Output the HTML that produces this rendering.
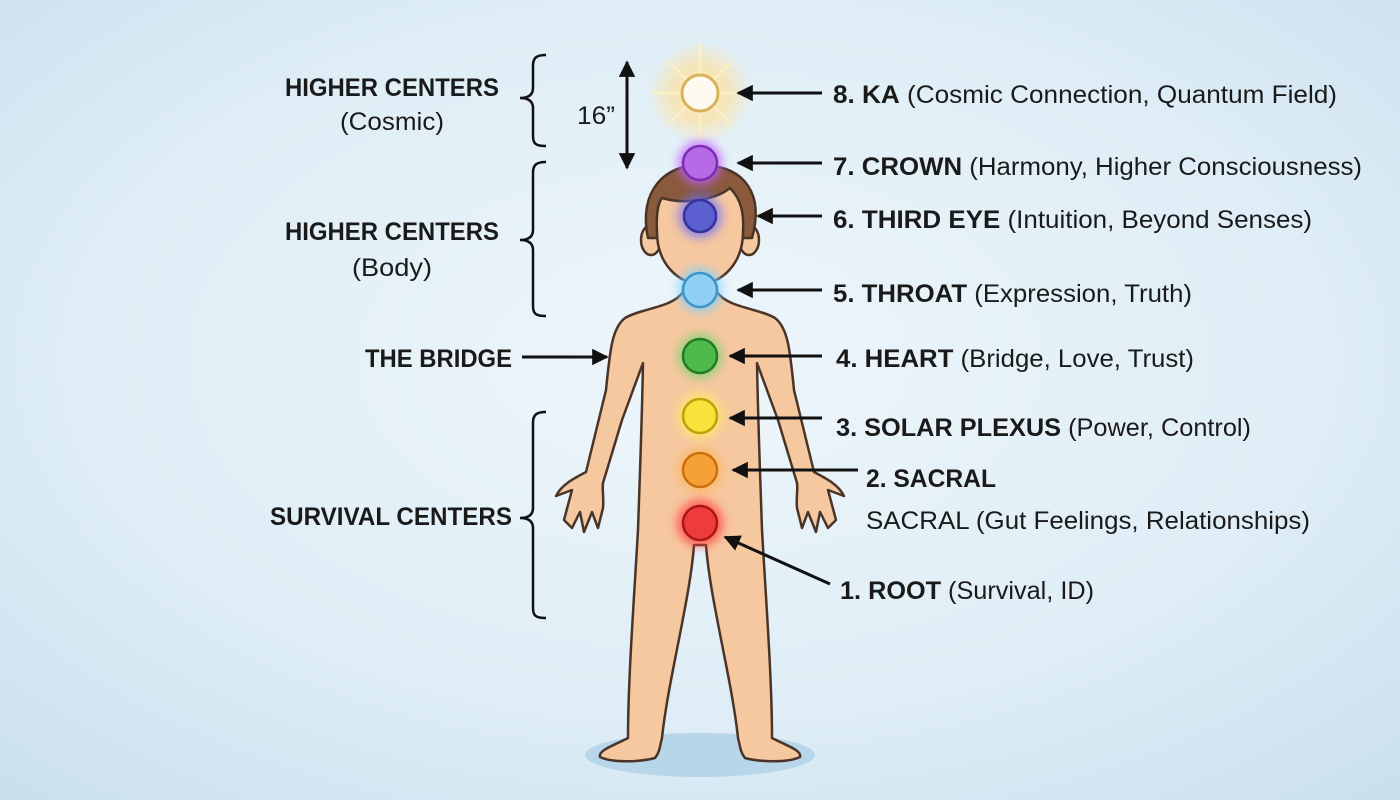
<!DOCTYPE html>
<html><head><meta charset="utf-8"><style>
html,body{margin:0;padding:0;width:1400px;height:800px;overflow:hidden}
svg{display:block}
text{font-family:"Liberation Sans Narrow","Liberation Sans",sans-serif;fill:#1a1a1a}
.b{font-weight:bold}
</style></head><body>
<svg width="1400" height="800" viewBox="0 0 1400 800" xmlns="http://www.w3.org/2000/svg">
<defs>
<radialGradient id="bg" cx="50%" cy="45%" r="75%">
<stop offset="0" stop-color="#eef6fb"/><stop offset="0.6" stop-color="#deedf6"/><stop offset="1" stop-color="#c9dfed"/>
</radialGradient>
<radialGradient id="sun" cx="50%" cy="50%" r="50%">
<stop offset="0" stop-color="#fff6d8" stop-opacity="1"/><stop offset="0.5" stop-color="#fbe0a0" stop-opacity="0.75"/><stop offset="1" stop-color="#fbe3a0" stop-opacity="0"/>
</radialGradient>
<filter id="glow" x="-1" y="-1" width="3" height="3"><feGaussianBlur stdDeviation="5"/></filter>
<marker id="ah" viewBox="0 0 10 10" refX="9" refY="5" markerWidth="5.5" markerHeight="5.5" orient="auto-start-reverse"><path d="M0,0 L10,5 L0,10 z" fill="#111"/></marker>
</defs>
<rect width="1400" height="800" fill="url(#bg)"/>
<ellipse cx="700" cy="755" rx="115" ry="22" fill="#b8d6ea"/>

<!-- body -->
<g stroke="#4a3428" stroke-width="2.5" stroke-linejoin="round" fill="#f6c8a0">
<path d="M683,292 C672,308 642,308 625,318 C612,328 610,350 606,390 L586,472 C575,478 562,484 556,496 L572,490 L564,520 L572,528 L580,512 L584,532 L592,512 L598,528 L603,508 C604,498 602,490 603,483 L622,420 L643,363 C642,420 640,470 638,530 C634,600 628,680 628,738 C615,745 598,750 600,757 C612,763 640,762 655,758 C660,752 660,745 662,738 C668,680 690,600 694,545 L706,545 C710,600 732,680 738,738 C740,745 740,752 745,758 C760,762 788,763 800,757 C802,750 785,745 772,738 C772,680 766,600 762,530 C760,470 758,420 757,363 L778,420 L797,483 C798,490 796,498 797,508 L802,528 L808,512 L816,532 L820,512 L828,528 L836,520 L828,490 L844,496 C838,484 825,478 814,472 L794,390 C790,350 788,328 775,318 C758,308 728,308 717,292 Z"/>
<ellipse cx="651" cy="240" rx="10" ry="15"/>
<ellipse cx="749" cy="240" rx="10" ry="15"/>
<path d="M648,238 C638,192 664,163 704,165 C746,167 764,195 752,238 Z" fill="#8a5a3c"/>
<path d="M657,232 C656,215 658,203 662,198 C685,205 715,200 730,188 C742,200 744,215 743,232 C743,265 720,284 700,284 C680,284 657,265 657,232 Z"/>
</g>

<!-- KA sun -->
<circle cx="700" cy="93" r="52" fill="url(#sun)"/>
<g stroke="#fdf0c4" stroke-width="3" stroke-linecap="round" opacity="0.9">
<line x1="700" y1="45" x2="700" y2="141"/><line x1="652" y1="93" x2="748" y2="93"/>
<line x1="670" y1="63" x2="730" y2="123"/><line x1="730" y1="63" x2="670" y2="123"/>
</g>
<circle cx="700" cy="93" r="18" fill="#fffaf0" stroke="#d8b25a" stroke-width="3"/>

<!-- chakras -->
<g>
<circle cx="700" cy="163" r="22" fill="#c060ff" filter="url(#glow)" opacity="0.8"/>
<circle cx="700" cy="163" r="17" fill="#b66ae6" stroke="#7a2fb0" stroke-width="2.5"/>
<circle cx="700" cy="216" r="22" fill="#6a6cff" filter="url(#glow)" opacity="0.7"/>
<circle cx="700" cy="216" r="16" fill="#5b5fcf" stroke="#33339a" stroke-width="2.5"/>
<circle cx="700" cy="290" r="22" fill="#7fd2ff" filter="url(#glow)" opacity="0.8"/>
<circle cx="700" cy="290" r="17" fill="#8fd0f4" stroke="#3c96c8" stroke-width="2.5"/>
<circle cx="700" cy="356" r="22" fill="#6ad06a" filter="url(#glow)" opacity="0.7"/>
<circle cx="700" cy="356" r="17" fill="#4fb94a" stroke="#237a24" stroke-width="2.5"/>
<circle cx="700" cy="416" r="22" fill="#fff060" filter="url(#glow)" opacity="0.8"/>
<circle cx="700" cy="416" r="17" fill="#f7e23a" stroke="#c2a00c" stroke-width="2.5"/>
<circle cx="700" cy="470" r="22" fill="#ffb050" filter="url(#glow)" opacity="0.7"/>
<circle cx="700" cy="470" r="17" fill="#f4a036" stroke="#c96f10" stroke-width="2.5"/>
<circle cx="700" cy="523" r="23" fill="#ff4040" filter="url(#glow)" opacity="0.8"/>
<circle cx="700" cy="523" r="17" fill="#ee3c3c" stroke="#a81818" stroke-width="2.5"/>
</g>

<!-- arrows -->
<g stroke="#111" stroke-width="3" fill="none" marker-end="url(#ah)">
<line x1="822" y1="93" x2="738" y2="93"/>
<line x1="822" y1="163" x2="738" y2="163"/>
<line x1="822" y1="216" x2="758" y2="216"/>
<line x1="822" y1="290" x2="738" y2="290"/>
<line x1="822" y1="356" x2="730" y2="356"/>
<line x1="822" y1="418" x2="730" y2="418"/>
<line x1="858" y1="470" x2="733" y2="470"/>
<line x1="830" y1="584" x2="725" y2="537"/>
<line x1="522" y1="357" x2="607" y2="357"/>
</g>
<line x1="627" y1="62" x2="627" y2="168" stroke="#111" stroke-width="3" marker-start="url(#ah)" marker-end="url(#ah)"/>

<!-- braces -->
<g stroke="#111" stroke-width="2.5" fill="none">
<path d="M546,55 C536,55 533,58 533,66 L533,88 C533,95 528,98 520,98 C528,98 533,101 533,108 L533,136 C533,144 536,146 546,146"/>
<path d="M546,162 C536,162 533,165 533,173 L533,230 C533,237 528,240 520,240 C528,240 533,243 533,250 L533,306 C533,314 536,316 546,316"/>
<path d="M546,412 C536,412 533,415 533,423 L533,508 C533,515 528,518 520,518 C528,518 533,521 533,528 L533,608 C533,616 536,618 546,618"/>
</g>

<!-- left labels -->
<g font-size="25" text-anchor="middle">
<text x="392" y="96" class="b" textLength="214" lengthAdjust="spacingAndGlyphs">HIGHER CENTERS</text>
<text x="392" y="130" textLength="104" lengthAdjust="spacingAndGlyphs">(Cosmic)</text>
<text x="392" y="240" class="b" textLength="214" lengthAdjust="spacingAndGlyphs">HIGHER CENTERS</text>
<text x="392" y="276" textLength="80" lengthAdjust="spacingAndGlyphs">(Body)</text>
</g>
<g font-size="25">
<text x="365" y="367" class="b" textLength="147" lengthAdjust="spacingAndGlyphs">THE BRIDGE</text>
<text x="270" y="525" class="b" textLength="242" lengthAdjust="spacingAndGlyphs">SURVIVAL CENTERS</text>
<text x="577" y="124" textLength="38" lengthAdjust="spacingAndGlyphs">16”</text>
</g>

<!-- right labels -->
<g font-size="25">
<text x="833" y="103" textLength="504" lengthAdjust="spacingAndGlyphs"><tspan class="b">8. KA</tspan> (Cosmic Connection, Quantum Field)</text>
<text x="833" y="175" textLength="529" lengthAdjust="spacingAndGlyphs"><tspan class="b">7. CROWN</tspan> (Harmony, Higher Consciousness)</text>
<text x="833" y="228" textLength="479" lengthAdjust="spacingAndGlyphs"><tspan class="b">6. THIRD EYE</tspan> (Intuition, Beyond Senses)</text>
<text x="833" y="302" textLength="359" lengthAdjust="spacingAndGlyphs"><tspan class="b">5. THROAT</tspan> (Expression, Truth)</text>
<text x="836" y="367" textLength="358" lengthAdjust="spacingAndGlyphs"><tspan class="b">4. HEART</tspan> (Bridge, Love, Trust)</text>
<text x="836" y="436" textLength="415" lengthAdjust="spacingAndGlyphs"><tspan class="b">3. SOLAR PLEXUS</tspan> (Power, Control)</text>
<text x="866" y="487" class="b" textLength="130" lengthAdjust="spacingAndGlyphs">2. SACRAL</text>
<text x="866" y="529" textLength="444" lengthAdjust="spacingAndGlyphs">SACRAL (Gut Feelings, Relationships)</text>
<text x="840" y="599" textLength="254" lengthAdjust="spacingAndGlyphs"><tspan class="b">1. ROOT</tspan> (Survival, ID)</text>
</g>
</svg>
</body></html>
